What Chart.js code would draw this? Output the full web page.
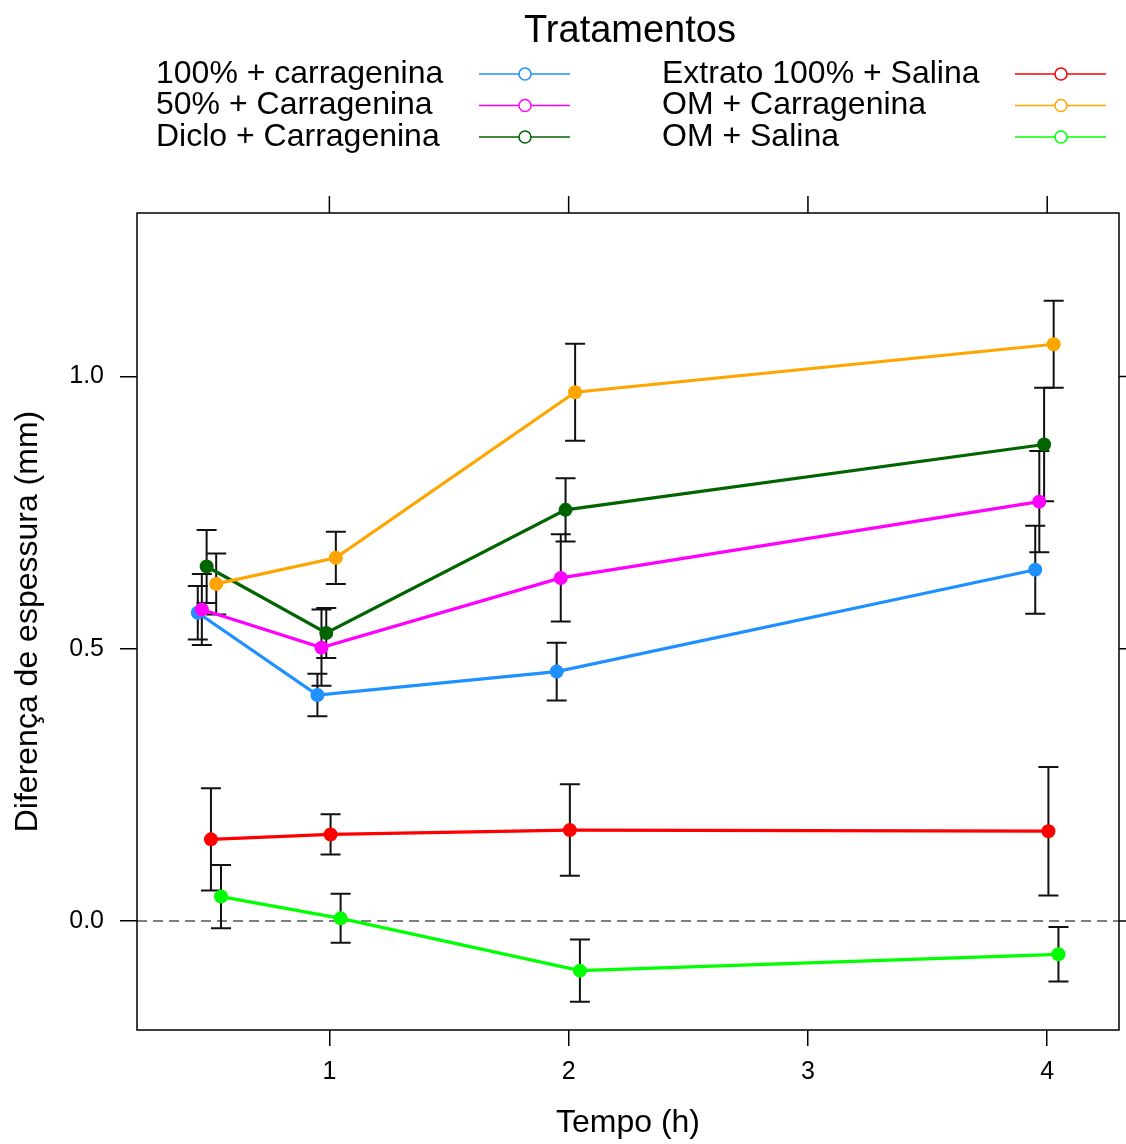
<!DOCTYPE html>
<html>
<head>
<meta charset="utf-8">
<title>Diferença de espessura</title>
<script src="https://cdn.jsdelivr.net/npm/chart.js@4.4.1/dist/chart.umd.min.js"></script>
<style>
  html, body { margin: 0; padding: 0; background: #fff; }
  #wrap { width: 1126px; height: 1144px; }
</style>
</head>
<body>
<div id="wrap"><canvas id="grafico" width="1126" height="1144"></canvas></div>
<script>
// Dados
const tempos = [0.5, 1, 2, 4];
const tratamentos = ['100% + carragenina', '50% + Carragenina', 'Diclo + Carragenina',
                     'Extrato 100% + Salina', 'OM + Carragenina', 'OM + Salina'];
const cores = ['#1e90ff', '#ff00ff', '#006400', '#ff0000', '#ffa500', '#00ff00'];
// pequeno deslocamento horizontal de cada grupo (dodge)
const deslocamento = [-0.05, -0.033, -0.013, 0.005, 0.027, 0.047];

const media100Carr = [0.566, 0.415, 0.458, 0.645];
const media50Carr = [0.572, 0.502, 0.630, 0.770];
const mediaDiclo = [0.651, 0.529, 0.755, 0.875];
const mediaExtSal = [0.150, 0.159, 0.167, 0.165];
const mediaOMCarr = [0.619, 0.667, 0.971, 1.059];
const mediaOMSal = [0.045, 0.005, -0.091, -0.061];

const erro100Carr = [0.049, 0.039, 0.053, 0.081];
const erro50Carr = [0.065, 0.070, 0.080, 0.093];
const erroDiclo = [0.067, 0.046, 0.058, 0.104];
const erroExtSal = [0.094, 0.037, 0.084, 0.118];
const erroOMCarr = [0.056, 0.048, 0.089, 0.080];
const erroOMSal = [0.058, 0.045, 0.057, 0.050];

const ticksX = [1, 2, 3, 4];
const ticksY = [0, 0.5, 1.0];

const medias = [media100Carr, media50Carr, mediaDiclo, mediaExtSal, mediaOMCarr, mediaOMSal];
const erros = [erro100Carr, erro50Carr, erroDiclo, erroExtSal, erroOMCarr, erroOMSal];

const fonte = 'Liberation Sans, Arial, Helvetica, sans-serif';

// Barras de erro e linha tracejada no zero
const barrasErro = {
    id: 'barrasErro',
    beforeDatasetsDraw(chart) {
        const { ctx, chartArea, scales: { x, y } } = chart;
        ctx.save();
        // linha em y = 0
        const y0 = y.getPixelForValue(0);
        ctx.strokeStyle = '#555';
        ctx.lineWidth = 1.5;
        ctx.setLineDash([10, 6]);
        ctx.beginPath();
        ctx.moveTo(chartArea.left, y0);
        ctx.lineTo(chartArea.right, y0);
        ctx.stroke();
        ctx.setLineDash([]);

        ctx.strokeStyle = '#111';
        ctx.lineWidth = 2;
        medias.forEach((serie, i) => {
            serie.forEach((m, j) => {
                const px = x.getPixelForValue(tempos[j] + deslocamento[i]);
                const sup = y.getPixelForValue(m + erros[i][j]);
                const inf = y.getPixelForValue(m - erros[i][j]);
                ctx.beginPath();
                ctx.moveTo(px, sup); ctx.lineTo(px, inf);
                ctx.moveTo(px - 10, sup); ctx.lineTo(px + 10, sup);
                ctx.moveTo(px - 10, inf); ctx.lineTo(px + 10, inf);
                ctx.stroke();
            });
        });
        ctx.restore();
    }
};

// Moldura com marcas em cima e à direita (estilo lattice)
const moldura = {
    id: 'moldura',
    afterDraw(chart) {
        const { ctx, chartArea: a, scales: { x, y } } = chart;
        ctx.save();
        ctx.strokeStyle = '#000';
        ctx.lineWidth = 1.5;
        ctx.strokeRect(a.left, a.top, a.right - a.left, a.bottom - a.top);
        ctx.beginPath();
        ticksX.forEach(v => {
            const px = x.getPixelForValue(v);
            ctx.moveTo(px, a.top); ctx.lineTo(px, a.top - 17);
        });
        ticksY.forEach(v => {
            const py = y.getPixelForValue(v);
            ctx.moveTo(a.right, py); ctx.lineTo(a.right + 17, py);
        });
        ctx.stroke();
        ctx.restore();
    }
};

// Legenda no topo, em duas colunas
const legenda = {
    id: 'legenda',
    afterDraw(chart) {
        const { ctx } = chart;
        ctx.save();
        ctx.fillStyle = '#000';
        ctx.textBaseline = 'middle';
        ctx.textAlign = 'center';
        ctx.font = '38px ' + fonte;
        ctx.fillText('Tratamentos', 630, 32);

        ctx.font = '32px ' + fonte;
        ctx.textAlign = 'left';
        const colunas = [{ texto: 156, linha: 479 }, { texto: 662, linha: 1015 }];
        tratamentos.forEach((nome, i) => {
            const col = colunas[Math.floor(i / 3)];
            const py = 74 + (i % 3) * 31.5;
            ctx.fillStyle = '#000';
            ctx.fillText(nome, col.texto, py);
            ctx.strokeStyle = cores[i];
            ctx.lineWidth = 1.5;
            ctx.beginPath();
            ctx.moveTo(col.linha, py); ctx.lineTo(col.linha + 91, py);
            ctx.stroke();
            ctx.fillStyle = '#fff';
            ctx.beginPath();
            ctx.arc(col.linha + 46, py, 6, 0, Math.PI * 2);
            ctx.fill();
            ctx.stroke();
        });
        ctx.restore();
    }
};

new Chart(document.getElementById('grafico'), {
    type: 'line',
    data: {
        datasets: tratamentos.map((nome, i) => ({
            label: nome,
            data: tempos.map((t, j) => ({ x: t + deslocamento[i], y: medias[i][j] })),
            borderColor: cores[i],
            backgroundColor: cores[i],
            borderWidth: 3.2,
            pointRadius: 7,
            pointBorderWidth: 0,
            pointBackgroundColor: cores[i],
            tension: 0,
            order: 5 - i
        }))
    },
    options: {
        responsive: false,
        animation: false,
        devicePixelRatio: 1,
        layout: { padding: { top: 213, right: 3, left: 0, bottom: 0 } },
        plugins: { legend: { display: false }, tooltip: { enabled: false } },
        scales: {
            x: {
                type: 'linear',
                min: 0.196,
                max: 4.3,
                afterBuildTicks: s => { s.ticks = ticksX.map(v => ({ value: v })); },
                afterFit: s => { s.height = 114; },
                ticks: {
                    font: { family: fonte, size: 25 }, color: '#000', padding: 11,
                    maxRotation: 0, autoSkip: false, callback: v => String(v)
                },
                grid: { drawOnChartArea: false, drawTicks: true, tickLength: 16, color: '#000', lineWidth: 1.5 },
                border: { display: false },
                title: {
                    display: true, text: 'Tempo (h)', color: '#000',
                    font: { family: fonte, size: 32 }, padding: { top: 0, bottom: 2 }
                }
            },
            y: {
                type: 'linear',
                min: -0.2,
                max: 1.3,
                afterBuildTicks: s => { s.ticks = ticksY.map(v => ({ value: v })); },
                afterFit: s => { s.width = 137; },
                ticks: {
                    font: { family: fonte, size: 25 }, color: '#000', padding: 16,
                    autoSkip: false, callback: v => Number(v).toFixed(1)
                },
                grid: { drawOnChartArea: false, drawTicks: true, tickLength: 17, color: '#000', lineWidth: 1.5 },
                border: { display: false },
                title: {
                    display: true, text: 'Diferença de espessura (mm)', color: '#000',
                    font: { family: fonte, size: 32 }, padding: { top: 9, bottom: 0 }
                }
            }
        }
    },
    plugins: [barrasErro, moldura, legenda]
});
</script>
</body>
</html>
